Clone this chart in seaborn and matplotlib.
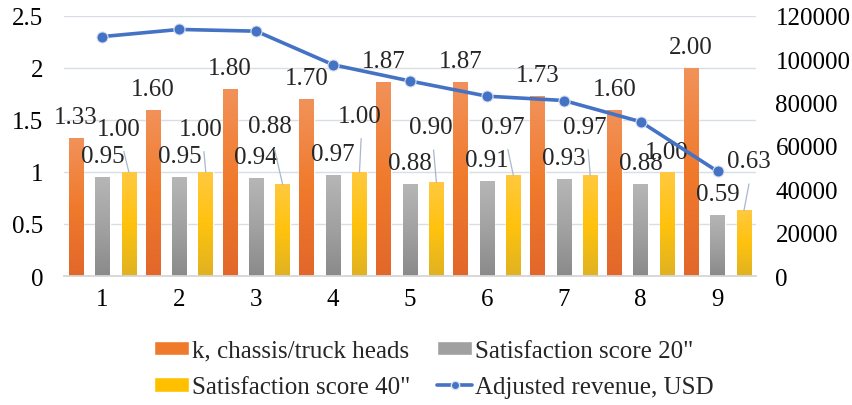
import numpy as np
import pandas as pd
import matplotlib
matplotlib.use("Agg")
import matplotlib.pyplot as plt
import seaborn as sns
from matplotlib.colors import LinearSegmentedColormap
from matplotlib.lines import Line2D
from matplotlib.patches import Patch

# ---- data ----
categories = ["1", "2", "3", "4", "5", "6", "7", "8", "9"]
k_ratio = [1.33, 1.60, 1.80, 1.70, 1.87, 1.87, 1.73, 1.60, 2.00]
score_20 = [0.95, 0.95, 0.94, 0.97, 0.88, 0.91, 0.93, 0.88, 0.59]
score_40 = [1.00, 1.00, 0.88, 1.00, 0.90, 0.97, 0.97, 1.00, 0.63]
revenue = [110500, 113800, 113000, 97500, 90000, 83000, 81000, 71200, 48300]

bar_series = ["k, chassis/truck heads", 'Satisfaction score 20"', 'Satisfaction score 40"']
line_series = "Adjusted revenue, USD"

left_ticks = [0, 0.5, 1, 1.5, 2, 2.5]
left_tick_labels = ["0", "0.5", "1", "1.5", "2", "2.5"]
right_ticks = [0, 20000, 40000, 60000, 80000, 100000, 120000]

df = pd.DataFrame({
    "group": np.tile(categories, 3),
    "series": np.repeat(bar_series, len(categories)),
    "value": k_ratio + score_20 + score_40,
})

# ---- styling ----
sns.set_theme(style="white")
plt.rcParams["font.family"] = ["Liberation Serif", "DejaVu Serif"]
FS = 18
base_colors = ["#F07A2C", "#A0A0A0", "#FFC000"]
gradients = [
    ["#E2672A", "#F07A2C", "#F2925A"],
    ["#8A8A8A", "#A2A2A2", "#B6B6B6"],
    ["#E0B222", "#FFC20E", "#FFC93F"],
]
grid_color = "#D9DDE4"
leader_color = "#A9B7CC"
line_color = "#4472C4"

fig = plt.figure(figsize=(8.52, 4.06), dpi=100)
ax = fig.add_axes([64 / 852, 1 - 277 / 406, (756 - 64) / 852, (277 - 17) / 406])

sns.barplot(data=df, x="group", y="value", hue="series", hue_order=bar_series,
            order=categories, palette=base_colors, width=1.03, gap=0.45,
            legend=False, ax=ax, zorder=2)

ax.set_xlim(-0.5, len(categories) - 0.5)
ax.set_ylim(0, 2.5)
ax.set_yticks(left_ticks)
ax.set_yticklabels(left_tick_labels)
ax.set_xlabel("")
ax.set_ylabel("")
ax.grid(axis="y", color=grid_color, lw=1.0, zorder=0)
ax.set_axisbelow(True)
for s in ["top", "left", "right"]:
    ax.spines[s].set_visible(False)
ax.spines["bottom"].set_color("#D6D6D6")
ax.spines["bottom"].set_linewidth(1.3)
ax.tick_params(axis="both", length=0, labelsize=FS, colors="black")
ax.tick_params(axis="y", pad=15)
ax.tick_params(axis="x", pad=9)

# vertical gradient fills clipped to each bar
for container, stops in zip(ax.containers, gradients):
    cmap = LinearSegmentedColormap.from_list("g", stops)
    grad = np.linspace(0, 1, 256).reshape(-1, 1)
    for patch in container.patches:
        x0, y0 = patch.get_x(), patch.get_y()
        w, h = patch.get_width(), patch.get_height()
        im = ax.imshow(grad, cmap=cmap, extent=[x0, x0 + w, y0, y0 + h],
                       origin="lower", aspect="auto", zorder=2.5,
                       interpolation="bicubic")
        im.set_clip_path(patch)
ax.set_xlim(-0.5, len(categories) - 0.5)
ax.set_ylim(0, 2.5)

# value labels
for container, values in zip(ax.containers[:2], [k_ratio, score_20]):
    for patch, v in zip(container.patches, values):
        ax.annotate(f"{v:.2f}", xy=(patch.get_x() + patch.get_width() / 2, v),
                    xytext=(0, 21), textcoords="offset pixels",
                    ha="center", va="center", fontsize=FS, zorder=4)

# labels for the 40" series, nudged away from neighbours with leader lines
label_offsets_40 = [(-10, 43), (-5, 43), (-13, 58), (0, 56), (-6, 55),
                    (-10, 48), (-5, 48), (0, 20), (5, 49)]
for patch, v, (dx, dy) in zip(ax.containers[2].patches, score_40, label_offsets_40):
    xc = patch.get_x() + patch.get_width() / 2
    props = None
    if dy > 30:
        props = dict(arrowstyle="-", color=leader_color, lw=0.9,
                     shrinkA=6, shrinkB=0, relpos=(0.55, 0.0))
    ax.annotate(f"{v:.2f}", xy=(xc, v), xytext=(dx, dy),
                textcoords="offset pixels", ha="center", va="center",
                fontsize=FS, zorder=4, arrowprops=props)

# revenue line on the secondary axis
ax2 = ax.twinx()
sns.lineplot(x=np.arange(len(categories)), y=revenue, ax=ax2, color=line_color,
             lw=2.6, marker="o", markersize=8, markeredgecolor="#DCE3F0",
             markeredgewidth=0.8, zorder=5)
ax2.set_ylim(0, 120000)
ax2.set_yticks(right_ticks)
ax2.set_yticklabels([str(t) for t in right_ticks])
ax2.set_xlim(-0.5, len(categories) - 0.5)
ax2.grid(False)
for s in ["top", "left", "right", "bottom"]:
    ax2.spines[s].set_visible(False)
ax2.tick_params(axis="y", length=0, labelsize=FS, pad=14, colors="black")
ax2.set_ylabel("")

# legend (row-wise order)
handles = [
    Patch(facecolor=base_colors[0], label=bar_series[0]),
    Patch(facecolor=base_colors[2], label=bar_series[2]),
    Patch(facecolor=base_colors[1], label=bar_series[1]),
    Line2D([0], [0], color=line_color, lw=2.6, marker="o", markersize=6,
           markeredgecolor="#DCE3F0", label=line_series),
]
fig.legend(handles=handles, ncol=2, loc="center", bbox_to_anchor=(434 / 852, 1 - 370 / 406),
           frameon=False, fontsize=FS, handlelength=1.4, handleheight=0.52,
           handletextpad=0.12, columnspacing=1.08, labelspacing=0.58, borderpad=0)

fig.savefig("out.png", dpi=100)
